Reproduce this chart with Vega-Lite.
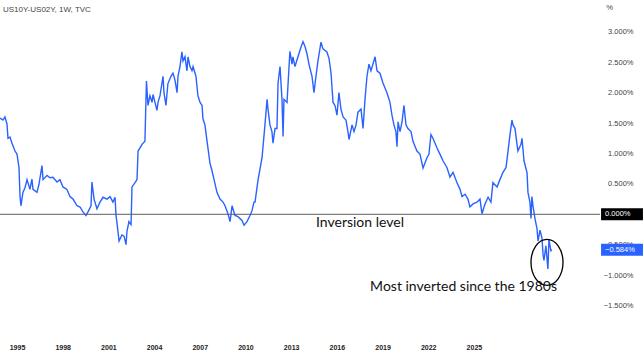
{
  "$schema": "https://vega.github.io/schema/vega-lite/v6.json",
  "width": 600,
  "height": 315,
  "autosize": {"type": "none"},
  "padding": {"left": 0, "top": 20, "right": 43, "bottom": 19},
  "background": "white",
  "config": {"view": {"stroke": null}, "axis": {"labelOverlap": false}},
  "title": {"text": "US10Y-US02Y, 1W, TVC", "anchor": "start", "frame": "group", "fontSize": 8, "font": "Liberation Sans", "fontWeight": "normal", "color": "#444444", "baseline": "bottom", "offset": -19, "dx": 3},
  "datasets": {
    "series": [
      {"year": 1993.88, "value": 1.58}, {"year": 1994.08, "value": 1.55}, {"year": 1994.21, "value": 1.6}, {"year": 1994.34, "value": 1.49},
      {"year": 1994.41, "value": 1.25}, {"year": 1994.54, "value": 1.27}, {"year": 1994.67, "value": 1.17}, {"year": 1994.87, "value": 1.04},
      {"year": 1995.0, "value": 0.99}, {"year": 1995.13, "value": 0.77}, {"year": 1995.2, "value": 0.29}, {"year": 1995.26, "value": 0.14},
      {"year": 1995.39, "value": 0.36}, {"year": 1995.53, "value": 0.44}, {"year": 1995.66, "value": 0.57}, {"year": 1995.85, "value": 0.41},
      {"year": 1995.98, "value": 0.58}, {"year": 1996.05, "value": 0.41}, {"year": 1996.31, "value": 0.36}, {"year": 1996.44, "value": 0.49},
      {"year": 1996.64, "value": 0.8}, {"year": 1996.71, "value": 0.57}, {"year": 1996.97, "value": 0.64}, {"year": 1997.17, "value": 0.6},
      {"year": 1997.36, "value": 0.61}, {"year": 1997.63, "value": 0.53}, {"year": 1997.82, "value": 0.57}, {"year": 1998.02, "value": 0.45},
      {"year": 1998.28, "value": 0.41}, {"year": 1998.48, "value": 0.29}, {"year": 1998.68, "value": 0.25}, {"year": 1998.94, "value": 0.14},
      {"year": 1999.14, "value": 0.12}, {"year": 1999.33, "value": 0.04}, {"year": 1999.53, "value": -0.02}, {"year": 1999.66, "value": 0.04},
      {"year": 1999.86, "value": 0.14}, {"year": 1999.92, "value": 0.53}, {"year": 2000.06, "value": 0.25}, {"year": 2000.25, "value": 0.09},
      {"year": 2000.45, "value": 0.2}, {"year": 2000.65, "value": 0.28}, {"year": 2000.91, "value": 0.25}, {"year": 2001.11, "value": 0.29},
      {"year": 2001.3, "value": 0.2}, {"year": 2001.44, "value": 0.28}, {"year": 2001.5, "value": -0.02}, {"year": 2001.57, "value": -0.15},
      {"year": 2001.7, "value": -0.44}, {"year": 2001.89, "value": -0.34}, {"year": 2002.03, "value": -0.36}, {"year": 2002.16, "value": -0.5},
      {"year": 2002.22, "value": -0.28}, {"year": 2002.35, "value": -0.12}, {"year": 2002.42, "value": -0.15}, {"year": 2002.49, "value": -0.17},
      {"year": 2002.55, "value": 0.45}, {"year": 2002.75, "value": 0.52}, {"year": 2002.88, "value": 0.57}, {"year": 2002.95, "value": 1.04},
      {"year": 2003.21, "value": 1.15}, {"year": 2003.4, "value": 1.2}, {"year": 2003.47, "value": 1.89}, {"year": 2003.5, "value": 2.19},
      {"year": 2003.6, "value": 1.79}, {"year": 2003.73, "value": 1.95}, {"year": 2003.87, "value": 1.84}, {"year": 2003.93, "value": 1.97},
      {"year": 2004.19, "value": 1.71}, {"year": 2004.26, "value": 1.84}, {"year": 2004.39, "value": 1.95}, {"year": 2004.59, "value": 2.27},
      {"year": 2004.65, "value": 2.0}, {"year": 2004.78, "value": 1.79}, {"year": 2004.91, "value": 2.15}, {"year": 2005.11, "value": 2.27},
      {"year": 2005.24, "value": 2.32}, {"year": 2005.37, "value": 2.21}, {"year": 2005.51, "value": 2.0}, {"year": 2005.57, "value": 2.27},
      {"year": 2005.7, "value": 2.43}, {"year": 2005.83, "value": 2.67}, {"year": 2005.9, "value": 2.52}, {"year": 2006.03, "value": 2.59},
      {"year": 2006.16, "value": 2.36}, {"year": 2006.23, "value": 2.59}, {"year": 2006.36, "value": 2.43}, {"year": 2006.49, "value": 2.36},
      {"year": 2006.56, "value": 2.43}, {"year": 2006.75, "value": 2.27}, {"year": 2006.88, "value": 1.95}, {"year": 2007.02, "value": 1.84},
      {"year": 2007.15, "value": 1.79}, {"year": 2007.21, "value": 1.57}, {"year": 2007.34, "value": 1.47}, {"year": 2007.48, "value": 1.2},
      {"year": 2007.67, "value": 0.84}, {"year": 2007.8, "value": 0.72}, {"year": 2007.94, "value": 0.57}, {"year": 2008.13, "value": 0.36},
      {"year": 2008.33, "value": 0.25}, {"year": 2008.53, "value": 0.2}, {"year": 2008.66, "value": 0.14}, {"year": 2008.85, "value": 0.01},
      {"year": 2008.99, "value": -0.12}, {"year": 2009.12, "value": 0.14}, {"year": 2009.31, "value": -0.02}, {"year": 2009.51, "value": -0.04},
      {"year": 2009.77, "value": -0.1}, {"year": 2009.91, "value": -0.18}, {"year": 2010.1, "value": -0.12}, {"year": 2010.3, "value": -0.02},
      {"year": 2010.43, "value": 0.06}, {"year": 2010.56, "value": 0.2}, {"year": 2010.63, "value": 0.2}, {"year": 2010.83, "value": 0.57},
      {"year": 2011.09, "value": 0.93}, {"year": 2011.28, "value": 1.47}, {"year": 2011.42, "value": 1.89}, {"year": 2011.48, "value": 1.73},
      {"year": 2011.61, "value": 1.47}, {"year": 2011.74, "value": 1.36}, {"year": 2011.81, "value": 1.17}, {"year": 2011.94, "value": 1.41},
      {"year": 2012.07, "value": 1.41}, {"year": 2012.14, "value": 2.16}, {"year": 2012.27, "value": 2.43}, {"year": 2012.4, "value": 1.89},
      {"year": 2012.47, "value": 1.28}, {"year": 2012.53, "value": 1.89}, {"year": 2012.73, "value": 1.84}, {"year": 2012.79, "value": 2.11},
      {"year": 2012.92, "value": 2.68}, {"year": 2013.06, "value": 2.47}, {"year": 2013.12, "value": 2.59}, {"year": 2013.25, "value": 2.43},
      {"year": 2013.45, "value": 2.59}, {"year": 2013.65, "value": 2.75}, {"year": 2013.78, "value": 2.84}, {"year": 2013.91, "value": 2.76},
      {"year": 2014.04, "value": 2.64}, {"year": 2014.17, "value": 2.47}, {"year": 2014.37, "value": 2.27}, {"year": 2014.5, "value": 2.0},
      {"year": 2014.63, "value": 2.27}, {"year": 2014.76, "value": 2.52}, {"year": 2014.96, "value": 2.83}, {"year": 2015.09, "value": 2.72},
      {"year": 2015.35, "value": 2.67}, {"year": 2015.49, "value": 2.56}, {"year": 2015.62, "value": 2.32}, {"year": 2015.75, "value": 1.84},
      {"year": 2015.88, "value": 1.79}, {"year": 2016.01, "value": 1.63}, {"year": 2016.14, "value": 2.0}, {"year": 2016.27, "value": 1.73},
      {"year": 2016.41, "value": 1.6}, {"year": 2016.6, "value": 1.55}, {"year": 2016.73, "value": 1.36}, {"year": 2016.8, "value": 1.23},
      {"year": 2017.0, "value": 1.47}, {"year": 2017.13, "value": 1.36}, {"year": 2017.26, "value": 1.47}, {"year": 2017.39, "value": 1.68},
      {"year": 2017.59, "value": 1.73}, {"year": 2017.72, "value": 1.41}, {"year": 2017.85, "value": 1.89}, {"year": 2017.98, "value": 2.27},
      {"year": 2018.11, "value": 2.47}, {"year": 2018.24, "value": 2.36}, {"year": 2018.37, "value": 2.47}, {"year": 2018.51, "value": 2.59},
      {"year": 2018.64, "value": 2.36}, {"year": 2018.83, "value": 2.32}, {"year": 2019.03, "value": 2.16}, {"year": 2019.29, "value": 2.0},
      {"year": 2019.49, "value": 1.84}, {"year": 2019.62, "value": 1.63}, {"year": 2019.75, "value": 1.47}, {"year": 2019.88, "value": 1.36},
      {"year": 2019.95, "value": 1.11}, {"year": 2020.02, "value": 1.52}, {"year": 2020.15, "value": 1.36}, {"year": 2020.28, "value": 1.52},
      {"year": 2020.41, "value": 1.79}, {"year": 2020.54, "value": 1.47}, {"year": 2020.67, "value": 1.41}, {"year": 2020.87, "value": 1.36},
      {"year": 2021.0, "value": 1.2}, {"year": 2021.26, "value": 1.04}, {"year": 2021.46, "value": 0.99}, {"year": 2021.66, "value": 0.76},
      {"year": 2021.92, "value": 0.93}, {"year": 2022.05, "value": 0.99}, {"year": 2022.18, "value": 1.31}, {"year": 2022.31, "value": 1.25},
      {"year": 2022.58, "value": 1.09}, {"year": 2022.77, "value": 0.99}, {"year": 2022.97, "value": 0.88}, {"year": 2023.23, "value": 0.77},
      {"year": 2023.43, "value": 0.61}, {"year": 2023.63, "value": 0.69}, {"year": 2023.89, "value": 0.52}, {"year": 2024.09, "value": 0.41},
      {"year": 2024.22, "value": 0.29}, {"year": 2024.42, "value": 0.33}, {"year": 2024.61, "value": 0.25}, {"year": 2024.74, "value": 0.12},
      {"year": 2024.94, "value": 0.17}, {"year": 2025.2, "value": 0.2}, {"year": 2025.4, "value": 0.25}, {"year": 2025.53, "value": 0.01},
      {"year": 2025.73, "value": 0.17}, {"year": 2025.93, "value": 0.28}, {"year": 2026.12, "value": 0.2}, {"year": 2026.25, "value": 0.52},
      {"year": 2026.52, "value": 0.45}, {"year": 2026.71, "value": 0.57}, {"year": 2026.91, "value": 0.69}, {"year": 2027.11, "value": 0.77},
      {"year": 2027.24, "value": 1.04}, {"year": 2027.37, "value": 1.31}, {"year": 2027.5, "value": 1.55}, {"year": 2027.57, "value": 1.47},
      {"year": 2027.7, "value": 1.41}, {"year": 2027.83, "value": 1.15}, {"year": 2027.89, "value": 1.04}, {"year": 2028.09, "value": 1.15},
      {"year": 2028.16, "value": 1.25}, {"year": 2028.29, "value": 0.88}, {"year": 2028.49, "value": 0.68}, {"year": 2028.55, "value": 0.36},
      {"year": 2028.68, "value": 0.2}, {"year": 2028.75, "value": -0.07}, {"year": 2028.81, "value": 0.29}, {"year": 2028.88, "value": 0.14},
      {"year": 2029.01, "value": -0.07}, {"year": 2029.14, "value": -0.23}, {"year": 2029.21, "value": -0.44}, {"year": 2029.34, "value": -0.26},
      {"year": 2029.47, "value": -0.39}, {"year": 2029.54, "value": -0.66}, {"year": 2029.6, "value": -0.76}, {"year": 2029.73, "value": -0.52},
      {"year": 2029.86, "value": -0.9}, {"year": 2029.93, "value": -0.42}, {"year": 2030.06, "value": -0.6}, {"year": 2030.12, "value": -0.584}
    ],
    "notes": [
      {"year": 2017.52, "value": -0.15, "label": "Inversion level"},
      {"year": 2024.32, "value": -1.2, "label": "Most inverted since the 1980s"}
    ],
    "zero": [{"level": 0}],
    "circle": [{"year": 2029.8, "value": -0.79}],
    "tags": [
      {"kind": "zero", "from": 2033.35, "to": 2036.1, "value": 0, "label": "0.000%"},
      {"kind": "last", "from": 2033.35, "to": 2036.1, "value": -0.584, "label": "−0.584%"}
    ]
  },
  "layer": [
    {
      "data": {"name": "series"},
      "mark": {"type": "line", "color": "#2962ff", "strokeWidth": 1.4},
      "encoding": {
        "x": {
          "field": "year", "type": "quantitative",
          "scale": {"domain": [1993.884, 2033.28], "nice": false, "zero": false},
          "axis": {
            "values": [1995, 1998, 2001, 2004, 2007, 2010, 2013, 2016, 2019, 2022, 2025],
            "tickCount": 30,
            "format": "d", "title": null, "grid": false, "ticks": false, "domain": false,
            "labelFlush": false, "labelOverlap": false, "labelFont": "Liberation Sans", "labelFontSize": 7, "labelFontWeight": "bold",
            "labelColor": "#222222", "labelPadding": 8
          }
        },
        "y": {
          "field": "value", "type": "quantitative",
          "scale": {"domain": [-1.903, 3.113], "nice": false, "zero": false},
          "axis": {
            "orient": "right",
            "values": [3, 2.5, 2, 1.5, 1, 0.5, -0.5, -1, -1.5],
            "tickCount": 30,
            "labelExpr": "format(datum.value, '.3f') + '%'",
            "grid": false, "ticks": false, "domain": false, "labelOverlap": false, "labelFlush": false, "labelBound": false,
            "labelFont": "Liberation Sans", "labelFontSize": 7.5, "labelColor": "#444444",
            "labelAlign": "right", "labelPadding": 33,
            "title": "%", "titleAngle": 0, "titleX": 9, "titleY": -13, "titleAlign": "center", "titleBaseline": "middle",
            "titleFont": "Liberation Sans", "titleFontSize": 7.5, "titleFontWeight": "normal", "titleColor": "#444444"
          }
        }
      }
    },
    {
      "data": {"name": "zero"},
      "mark": {"type": "rule", "color": "#5d5d5d", "strokeWidth": 1},
      "encoding": {"y": {"field": "level", "type": "quantitative"}}
    },
    {
      "data": {"name": "notes"},
      "mark": {"type": "text", "font": "Lato", "fontSize": 14, "color": "#111111", "align": "center", "baseline": "middle"},
      "encoding": {
        "x": {"field": "year", "type": "quantitative"},
        "y": {"field": "value", "type": "quantitative"},
        "text": {"field": "label"}
      }
    },
    {
      "data": {"name": "circle"},
      "mark": {"type": "point", "shape": "M -0.696 0 A 0.696 1 0 1 0 0.696 0 A 0.696 1 0 1 0 -0.696 0 Z", "size": 2116, "filled": false, "stroke": "#000000", "strokeWidth": 1.3, "opacity": 1},
      "encoding": {
        "x": {"field": "year", "type": "quantitative"},
        "y": {"field": "value", "type": "quantitative"}
      }
    },
    {
      "data": {"name": "tags"},
      "mark": {"type": "bar", "size": 12, "orient": "horizontal"},
      "encoding": {
        "x": {"field": "from", "type": "quantitative"},
        "x2": {"field": "to"},
        "y": {"field": "value", "type": "quantitative"},
        "color": {"field": "kind", "type": "nominal", "scale": {"domain": ["zero", "last"], "range": ["#000000", "#2962ff"]}, "legend": null}
      }
    },
    {
      "data": {"name": "tags"},
      "mark": {"type": "text", "font": "Liberation Sans", "fontSize": 7.5, "color": "white", "align": "left", "baseline": "middle", "dx": 4},
      "encoding": {
        "x": {"field": "from", "type": "quantitative"},
        "y": {"field": "value", "type": "quantitative"},
        "text": {"field": "label"}
      }
    }
  ]
}
